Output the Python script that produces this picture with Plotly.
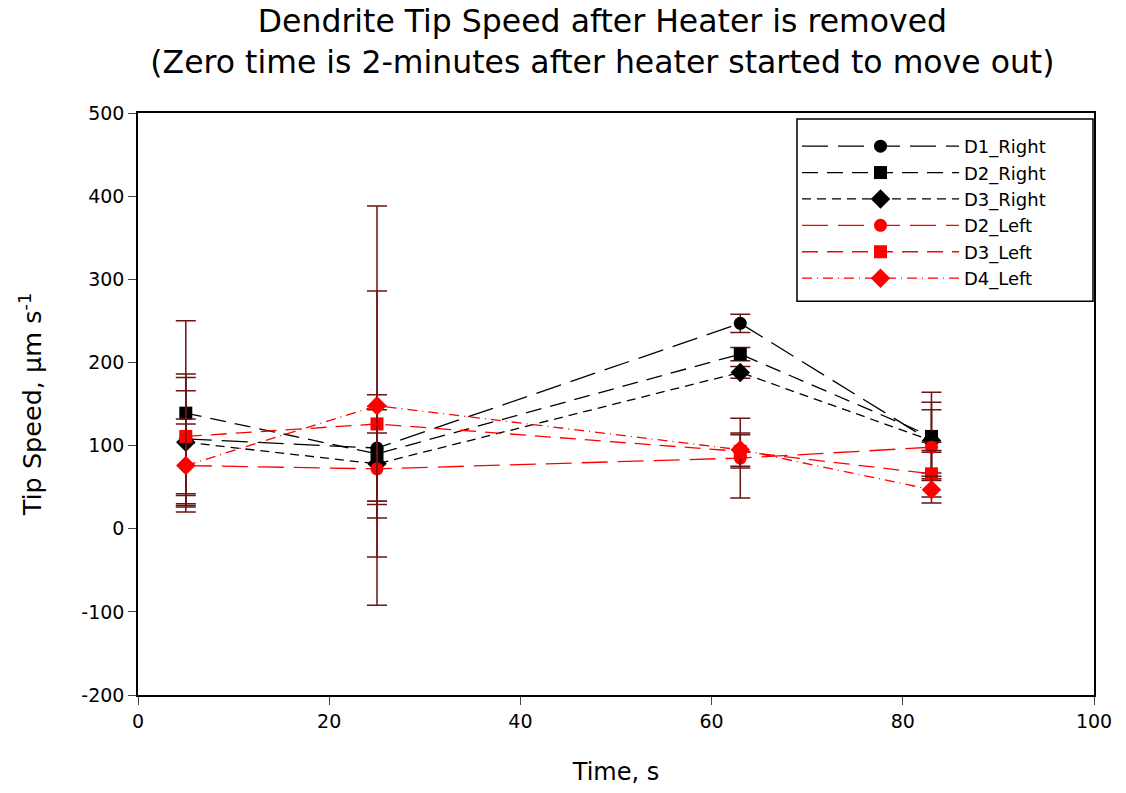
import plotly.graph_objects as go

time_s = [5, 25, 63, 83]

d1_right = [108, 97, 247, 105]
d1_right_err = [78, 64, 11, 38]
d2_right = [139, 90, 210, 111]
d2_right_err = [111, 57, 8, 53]
d3_right = [104, 78, 188, 106]
d3_right_err = [62, 65, 7, 46]
d2_left = [76, 72, 85, 98]
d2_left_err = [50, 43, 48, 6]
d3_left = [111, 126, 93, 66]
d3_left_err = [71, 160, 20, 28]
d4_left = [76, 148, 95, 47]
d4_left_err = [56, 240, 20, 16]

x_ticks = [0, 20, 40, 60, 80, 100]
x_ticktext = ["0", "20", "40", "60", "80", "100"]
y_ticks = [-200, -100, 0, 100, 200, 300, 400, 500]
y_ticktext = ["-200", "-100", "0", "100", "200", "300", "400", "500"]

FONT = "DejaVu Sans, Liberation Sans, Arial, sans-serif"
ERR_COLOR = "#6b1515"

series = [
    ("D1_Right", d1_right, d1_right_err, "black", "circle", 13, "26px,10px"),
    ("D2_Right", d2_right, d2_right_err, "black", "square", 13, "16px,9px"),
    ("D3_Right", d3_right, d3_right_err, "black", "diamond", 15, "9px,6px"),
    ("D2_Left", d2_left, d2_left_err, "red", "circle", 13, "26px,10px"),
    ("D3_Left", d3_left, d3_left_err, "red", "square", 13, "16px,9px"),
    ("D4_Left", d4_left, d4_left_err, "red", "diamond", 15, "10px,5px,1px,5px"),
]

fig = go.Figure()
for name, vals, errs, color, symbol, size, dash in series:
    fig.add_trace(go.Scatter(
        x=time_s, y=vals, name=name, mode="lines+markers",
        line=dict(color=color, width=1.3, dash=dash),
        marker=dict(symbol=symbol, size=size, color=color),
        error_y=dict(type="data", array=errs, visible=True,
                     color=ERR_COLOR, thickness=1.5, width=10),
    ))

# legend frame
fig.add_shape(type="rect", xref="paper", yref="paper",
              x0=(797 - 138) / 956, x1=(1093 - 138) / 956,
              y0=1 - (302 - 113) / 584, y1=1 - (119 - 113) / 584,
              line=dict(color="black", width=1.5), fillcolor="rgba(0,0,0,0)",
              layer="above")

fig.update_layout(
    width=1126, height=793,
    margin=dict(l=138, r=32, t=113, b=96),
    paper_bgcolor="white", plot_bgcolor="white",
    font=dict(family=FONT, color="black"),
    title=dict(
        text="Dendrite Tip Speed after Heater is removed<br>(Zero time is 2-minutes after heater started to move out)",
        x=0.535, xanchor="center", y=0.96, yanchor="top",
        font=dict(size=31.5, family=FONT, color="black"),
    ),
    showlegend=True,
    legend=dict(
        x=(797 - 138) / 956, y=1 - (128 - 113) / 584, xanchor="left", yanchor="top",
        borderwidth=0, bgcolor="rgba(0,0,0,0)",
        font=dict(size=18, family=FONT, color="black"),
        itemwidth=157, tracegroupgap=0,
    ),
    xaxis=dict(
        range=[0, 100], tickvals=x_ticks, ticktext=x_ticktext,
        ticks="outside", ticklen=8,
        showline=True, linecolor="black", linewidth=1.5, mirror=True,
        showgrid=False, zeroline=False,
        tickfont=dict(size=19, family=FONT),
        title=dict(text="Time, s", font=dict(size=24, family=FONT), standoff=33),
    ),
    yaxis=dict(
        range=[-200, 500], tickvals=y_ticks, ticktext=y_ticktext,
        ticks="outside", ticklen=8,
        showline=True, linecolor="black", linewidth=1.5, mirror=True,
        showgrid=False, zeroline=False,
        tickfont=dict(size=19, family=FONT),
        title=dict(text="Tip Speed, μm s<sup>-1</sup>", font=dict(size=25.5, family=FONT), standoff=32),
    ),
)

fig.write_html("out.html")
